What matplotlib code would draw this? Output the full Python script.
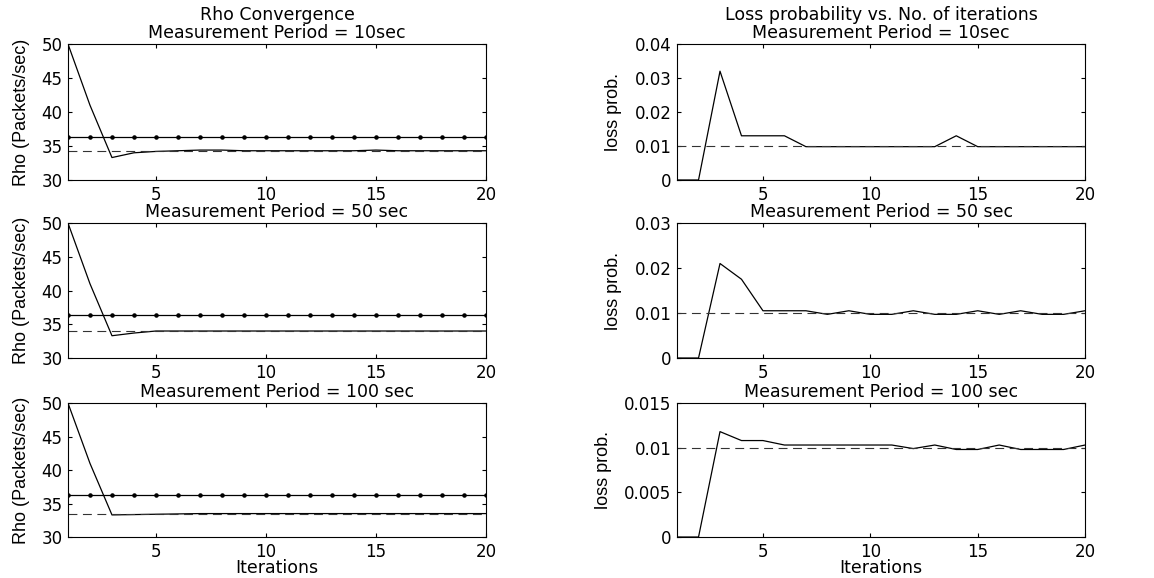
import matplotlib
matplotlib.use('Agg')
import matplotlib.pyplot as plt
import numpy as np
from matplotlib.ticker import FuncFormatter

iters = list(range(1, 21))

# rho per iteration, one list per measurement period
rho_10 = [50, 41, 33.3, 34.0, 34.2, 34.3, 34.4, 34.4, 34.3, 34.3,
          34.3, 34.3, 34.3, 34.3, 34.4, 34.3, 34.3, 34.3, 34.3, 34.3]
rho_50 = [50, 41, 33.3, 33.7, 34.0, 34.0, 34.0, 34.0, 34.0, 34.0,
          34.0, 34.0, 34.0, 34.0, 34.0, 34.0, 34.0, 34.0, 34.0, 34.0]
rho_100 = [50, 41, 33.3, 33.35, 33.4, 33.45, 33.5, 33.5, 33.5, 33.5,
           33.5, 33.5, 33.5, 33.5, 33.5, 33.5, 33.5, 33.5, 33.5, 33.5]
rho_target = [34.3, 34.0, 33.5]
rho_upper = 36.3

loss_10 = [0, 0, 0.032, 0.013, 0.013, 0.013, 0.0098, 0.0098, 0.0098, 0.0098,
           0.0098, 0.0098, 0.0098, 0.013, 0.0098, 0.0098, 0.0098, 0.0098, 0.0098, 0.0098]
loss_50 = [0, 0, 0.021, 0.0175, 0.0105, 0.0105, 0.0105, 0.0097, 0.0105, 0.0097,
           0.0097, 0.0105, 0.0097, 0.0097, 0.0105, 0.0097, 0.0105, 0.0097, 0.0097, 0.0105]
loss_100 = [0, 0, 0.0118, 0.0108, 0.0108, 0.0103, 0.0103, 0.0103, 0.0103, 0.0103,
            0.0103, 0.0099, 0.0103, 0.0098, 0.0098, 0.0103, 0.0098, 0.0098, 0.0098, 0.0103]
loss_target = 0.01
loss_ylims = [0.04, 0.03, 0.015]

periods = ['10sec', '50 sec', '100 sec']

plt.rcParams['font.family'] = ['DejaVu Sans']
plt.rcParams['font.size'] = 11

fig = plt.figure(figsize=(11.54, 5.78), dpi=100)

lefts = [0.0589, 0.5867]
widths = [0.3622, 0.3536]
bottoms = [0.6886, 0.3806, 0.0709]
heights = [0.2353, 0.2336, 0.2318]

narrow = ['Liberation Sans Narrow', 'Liberation Sans']
title_size = 12.5


def style_axes(ax):
    ax.tick_params(direction='in', top=True, right=True, length=3,
                   labelsize=12, pad=4)
    for s in ax.spines.values():
        s.set_linewidth(0.8)


rhos = [rho_10, rho_50, rho_100]
losses = [loss_10, loss_50, loss_100]

for i in range(3):
    ax = fig.add_axes([lefts[0], bottoms[i], widths[0], heights[i]])
    ax.plot(iters, rhos[i], color='black', lw=0.9)
    ax.plot(iters, [rho_target[i]] * len(iters), color='#333333', lw=0.8,
            linestyle=(0, (8, 5)))
    ax.plot(iters, [rho_upper] * len(iters), color='black', lw=0.9,
            marker='.', markersize=4.5)
    ax.set_xlim(1, 20)
    ax.set_ylim(30, 50)
    ax.set_xticks([5, 10, 15, 20])
    ax.set_yticks([30, 35, 40, 45, 50])
    ax.set_ylabel('Rho (Packets/sec)', fontsize=13, family=narrow, labelpad=8)
    if i == 0:
        ax.set_title('Rho Convergence\nMeasurement Period = ' + periods[i],
                     fontsize=title_size, pad=4, linespacing=1.05)
    else:
        ax.set_title('Measurement Period = ' + periods[i], fontsize=title_size, pad=4)
    if i == 2:
        ax.set_xlabel('Iterations', fontsize=title_size, labelpad=-1)
    style_axes(ax)

    ax = fig.add_axes([lefts[1], bottoms[i], widths[1], heights[i]])
    ax.plot(iters, losses[i], color='black', lw=0.9)
    ax.plot(iters, [loss_target] * len(iters), color='#333333', lw=0.8,
            linestyle=(0, (8, 5)))
    ax.set_xlim(1, 20)
    ax.set_ylim(0, loss_ylims[i])
    ax.set_xticks([5, 10, 15, 20])
    step = 0.005 if loss_ylims[i] < 0.02 else 0.01
    ax.set_yticks(np.arange(0, loss_ylims[i] + step / 2, step))
    ax.yaxis.set_major_formatter(FuncFormatter(lambda v, p: '%g' % round(v, 4)))
    ax.set_ylabel('loss prob.', fontsize=13, family=narrow, labelpad=9)
    if i == 0:
        ax.set_title('Loss probability vs. No. of iterations\nMeasurement Period = ' + periods[i],
                     fontsize=title_size, pad=4, linespacing=1.05)
    else:
        ax.set_title('Measurement Period = ' + periods[i], fontsize=title_size, pad=4)
    if i == 2:
        ax.set_xlabel('Iterations', fontsize=title_size, labelpad=-1)
    style_axes(ax)

fig.savefig('out.png', dpi=100)
